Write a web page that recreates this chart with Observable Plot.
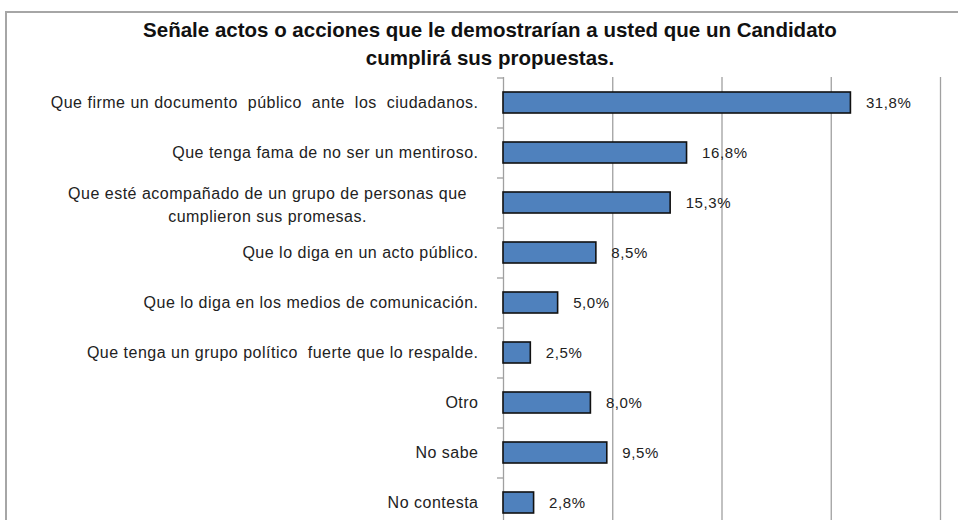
<!DOCTYPE html>
<html>
<head>
<meta charset="utf-8">
<script src="https://cdn.jsdelivr.net/npm/d3@7"></script>
<script src="https://cdn.jsdelivr.net/npm/@observablehq/plot@0.6"></script>
<style>
  html, body { margin: 0; padding: 0; background: #fff; overflow: hidden; }
  #wrap { position: relative; width: 958px; height: 520px; overflow: hidden; }
  #frame { position: absolute; left: 5px; top: 11px; width: 1000px; height: 600px;
           border-left: 2px solid #a6a6a6; border-top: 2px solid #a6a6a6; }
  #title { position: absolute; left: 0; top: 16px; width: 980px; text-align: center;
           font-family: "Liberation Sans", Arial, sans-serif; font-weight: bold;
           font-size: 20.5px; line-height: 28px; color: #111; }
  #chart { position: absolute; left: 0; top: 0; }
</style>
</head>
<body>
<div id="wrap">
  <div id="frame"></div>
  <div id="chart"></div>
  <div id="title">Señale actos o acciones que le demostrarían a usted que un Candidato<br>cumplirá sus propuestas.</div>
</div>
<script>
const categories = [
  "Que firme un documento  público  ante  los  ciudadanos.",
  "Que tenga fama de no ser un mentiroso.",
  "Que esté acompañado de un grupo de personas que\ncumplieron sus promesas.",
  "Que lo diga en un acto público.",
  "Que lo diga en los medios de comunicación.",
  "Que tenga un grupo político  fuerte que lo respalde.",
  "Otro",
  "No sabe",
  "No contesta"
];
const values = [31.8, 16.8, 15.3, 8.5, 5.0, 2.5, 8.0, 9.5, 2.8];
const xTicks = [0, 10, 20, 30, 40];

const es = d3.formatLocale({decimal: ",", thousands: ".", grouping: [3], currency: ["", "€"]});
const fmt = es.format(".1f");
const data = categories.map((c, i) => ({cat: c, value: values[i], label: fmt(values[i]) + "%"}));
const multi = data.filter(d => d.cat.includes("\n"));
const single = data.filter(d => !d.cat.includes("\n"));

const font = "'Liberation Sans', Arial, sans-serif";

const chart = Plot.plot({
  width: 958,
  height: 520,
  marginLeft: 503,
  marginRight: 18,
  marginTop: 77,
  marginBottom: 0,
  style: {fontFamily: font, background: "transparent"},
  x: {domain: [0, 40], range: [503, 940], axis: null},
  y: {domain: categories, range: [77, 527], paddingInner: 0.58, paddingOuter: 0.29, axis: null},
  marks: [
    Plot.ruleX(xTicks, {x: d => d, stroke: "#a0a0a0", strokeWidth: 1.3}),
    Plot.ruleY(categories, {y: d => d, x1: 0, x2: 0, insetLeft: -6, dy: 25, stroke: "#a0a0a0", strokeWidth: 1.3}),
    Plot.ruleY(categories.slice(0, 1), {y: d => d, x1: 0, x2: 0, insetLeft: -6, dy: -25, stroke: "#a0a0a0", strokeWidth: 1.3}),
    Plot.barX(data, {x: "value", y: "cat", fill: "#4F81BD", stroke: "#111", strokeWidth: 1.6}),
    Plot.text(data, {x: "value", y: "cat", text: "label", textAnchor: "start", dx: 15,
      fill: "#222", fontSize: 15, className: "vlab"}),
    Plot.text(single, {y: "cat", text: "cat", frameAnchor: "left", textAnchor: "end", dx: -25,
      fill: "#222", fontSize: 16, className: "clab"}),
    Plot.text(multi, {y: "cat", text: "cat", frameAnchor: "left", textAnchor: "middle", dx: -236,
      lineHeight: 1.45, fill: "#222", fontSize: 16, className: "clab"})
  ]
});
chart.querySelectorAll(".clab text").forEach(t => t.style.letterSpacing = "0.5px");
chart.querySelectorAll(".vlab text").forEach(t => t.style.letterSpacing = "0.6px");
document.getElementById("chart").appendChild(chart);
</script>
</body>
</html>
